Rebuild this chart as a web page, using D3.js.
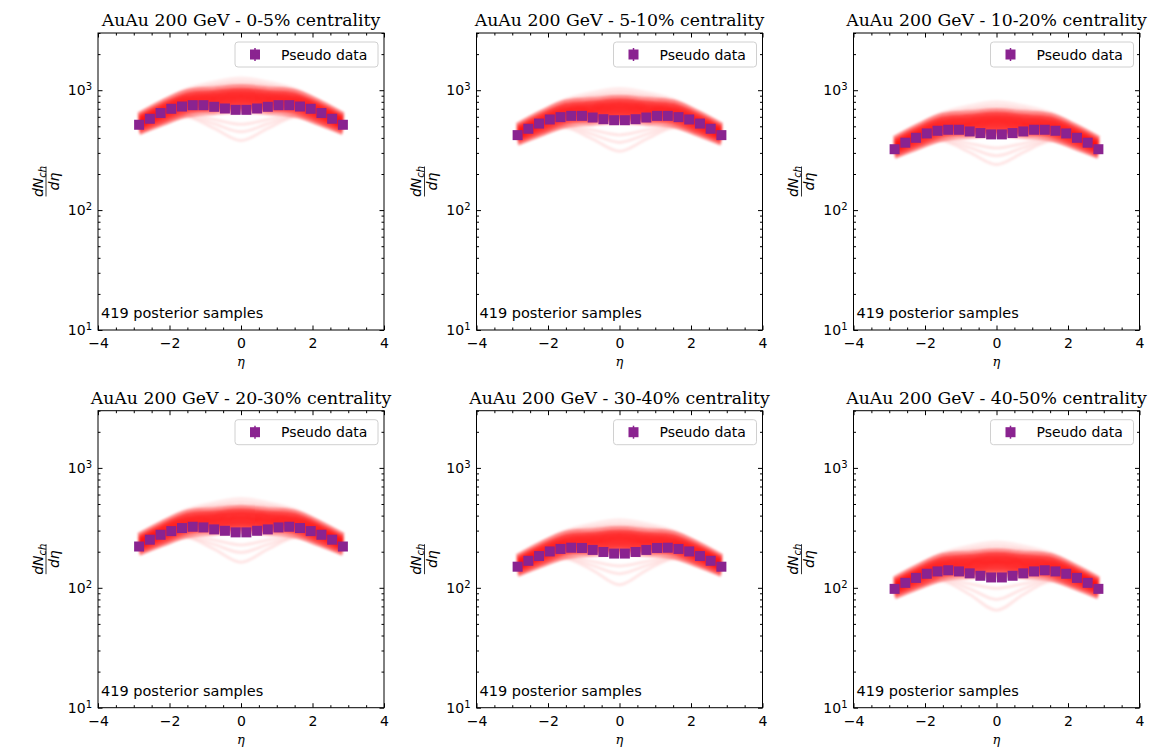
<!DOCTYPE html>
<html>
<head>
<meta charset="utf-8">
<script src="https://cdn.jsdelivr.net/npm/d3@7"></script>
<style>
body { margin: 0; background: #fff; }
svg text { font-family: "DejaVu Sans", sans-serif; }
</style>
</head>
<body>
<div id="chart"></div>
<script>
var svgWidth = 1162;
var svgHeight = 749;

// centrality classes, one panel each
var centralities = ["0-5%", "5-10%", "10-20%", "20-30%", "30-40%", "40-50%"];

// pseudorapidity bins of the pseudo data
var etaBins = [-2.85, -2.55, -2.25, -1.95, -1.65, -1.35, -1.05, -0.75, -0.45, -0.15,
               0.15, 0.45, 0.75, 1.05, 1.35, 1.65, 1.95, 2.25, 2.55, 2.85];

// pseudo data dNch/deta
var data_0_5   = [515, 578, 645, 700, 731, 750, 750, 727, 704, 686, 686, 704, 727, 750, 750, 731, 700, 645, 578, 515];
var data_5_10  = [422, 477, 527, 570, 596, 611, 611, 592, 573, 562, 562, 573, 592, 611, 611, 596, 570, 527, 477, 422];
var data_10_20 = [322, 365, 401, 436, 459, 468, 468, 453, 439, 428, 428, 439, 453, 468, 468, 459, 436, 401, 365, 322];
var data_20_30 = [221, 252, 277, 297, 315, 323, 319, 307, 299, 290, 290, 299, 307, 319, 323, 315, 297, 277, 252, 221];
var data_30_40 = [150, 168, 184, 201, 211, 216, 215, 207, 199, 193, 193, 199, 207, 215, 216, 211, 201, 184, 168, 150];
var data_40_50 = [98, 110, 121, 131, 137, 140, 137, 132, 126, 122, 122, 126, 132, 137, 140, 137, 131, 121, 110, 98];

// eta points where the posterior sample curves were read
var curveEta = [-2.85, -2.2, -1.5, -0.75, 0, 0.75, 1.5, 2.2, 2.85];

// representative posterior curves (dense band, bottom to top)
var band_0_5 = [
  [455, 540, 640, 668, 690, 668, 640, 540, 455],
  [477, 573, 684, 714, 740, 714, 684, 573, 477],
  [501, 608, 730, 764, 793, 764, 730, 608, 501],
  [525, 645, 780, 817, 850, 817, 780, 645, 525],
  [551, 684, 833, 874, 911, 874, 833, 684, 551],
  [578, 726, 890, 935, 977, 935, 890, 726, 578],
  [607, 770, 951, 1000, 1047, 1000, 951, 770, 607]
];
var band_5_10 = [
  [371, 440, 522, 544, 562, 544, 522, 440, 371],
  [389, 467, 557, 582, 603, 582, 557, 467, 389],
  [408, 496, 595, 623, 646, 623, 595, 496, 408],
  [428, 526, 636, 666, 693, 666, 636, 526, 428],
  [449, 557, 679, 712, 742, 712, 679, 557, 449],
  [471, 592, 725, 762, 796, 762, 725, 592, 471],
  [495, 628, 775, 815, 853, 815, 775, 628, 495]
];
var band_10_20 = [
  [288, 341, 404, 422, 436, 422, 404, 341, 288],
  [301, 362, 432, 451, 468, 451, 432, 362, 301],
  [317, 384, 461, 483, 501, 483, 461, 384, 317],
  [332, 408, 493, 516, 537, 516, 493, 408, 332],
  [348, 432, 526, 552, 576, 552, 526, 432, 348],
  [365, 459, 562, 591, 617, 591, 562, 459, 365],
  [384, 487, 601, 632, 662, 632, 601, 487, 384]
];
var band_20_30 = [
  [199, 236, 280, 293, 302, 293, 280, 236, 199],
  [209, 251, 300, 313, 324, 313, 300, 251, 209],
  [219, 266, 320, 335, 347, 335, 320, 266, 219],
  [230, 282, 342, 358, 372, 358, 342, 282, 230],
  [241, 300, 365, 383, 399, 383, 365, 300, 241],
  [253, 318, 390, 410, 428, 410, 390, 318, 253],
  [266, 337, 416, 438, 459, 438, 416, 337, 266]
];
var band_30_40 = [
  [133, 158, 187, 195, 201, 195, 187, 158, 133],
  [139, 167, 200, 208, 216, 208, 200, 167, 139],
  [146, 178, 213, 223, 232, 223, 213, 178, 146],
  [153, 188, 228, 239, 248, 239, 228, 188, 153],
  [161, 200, 243, 255, 266, 255, 243, 200, 161],
  [169, 212, 260, 273, 285, 273, 260, 212, 169],
  [177, 225, 278, 292, 306, 292, 278, 225, 177]
];
var band_40_50 = [
  [86, 103, 122, 127, 131, 127, 122, 103, 86],
  [91, 109, 130, 136, 141, 136, 130, 109, 91],
  [95, 116, 139, 145, 151, 145, 139, 116, 95],
  [100, 123, 148, 155, 162, 155, 148, 123, 100],
  [105, 130, 158, 166, 173, 166, 158, 130, 105],
  [110, 138, 169, 178, 186, 178, 169, 138, 110],
  [115, 146, 181, 190, 199, 190, 181, 146, 115]
];

// sparse outlier curves (two above the band, three with a central dip)
var faint_0_5 = [
  [620, 790, 980, 1070, 1130, 1070, 980, 790, 620],
  [630, 800, 1000, 1140, 1230, 1140, 1000, 800, 630],
  [450, 545, 625, 570, 520, 570, 625, 545, 450],
  [440, 530, 610, 525, 450, 525, 610, 530, 440],
  [430, 520, 595, 480, 380, 480, 595, 520, 430]
];
var faint_5_10 = [
  [505, 644, 799, 872, 921, 872, 799, 644, 505],
  [513, 652, 815, 929, 1002, 929, 815, 652, 513],
  [367, 444, 509, 465, 424, 465, 509, 444, 367],
  [359, 432, 497, 428, 367, 428, 497, 432, 359],
  [350, 424, 485, 391, 310, 391, 485, 424, 350]
];
var faint_10_20 = [
  [392, 499, 619, 676, 714, 676, 619, 499, 392],
  [398, 506, 632, 720, 777, 720, 632, 506, 398],
  [284, 344, 395, 360, 329, 360, 395, 344, 284],
  [278, 335, 385, 332, 284, 332, 385, 335, 278],
  [272, 329, 376, 303, 240, 303, 376, 329, 272]
];
var faint_20_30 = [
  [272, 346, 429, 469, 495, 469, 429, 346, 272],
  [276, 350, 438, 499, 539, 499, 438, 350, 276],
  [197, 239, 274, 250, 228, 250, 274, 239, 197],
  [193, 232, 267, 230, 197, 230, 267, 232, 193],
  [188, 228, 261, 210, 163, 210, 261, 228, 188]
];
var faint_30_40 = [
  [181, 231, 286, 312, 330, 312, 286, 231, 181],
  [184, 234, 292, 333, 359, 333, 292, 234, 184],
  [131, 159, 182, 166, 152, 166, 182, 159, 131],
  [128, 155, 178, 153, 131, 153, 178, 155, 128],
  [126, 152, 174, 140, 106, 140, 174, 152, 126]
];
var faint_40_50 = [
  [118, 150, 186, 203, 215, 203, 186, 150, 118],
  [120, 152, 190, 217, 234, 217, 190, 152, 120],
  [86, 104, 119, 108, 99, 108, 119, 104, 86],
  [84, 101, 116, 98, 80, 98, 116, 101, 84],
  [82, 99, 113, 88, 65, 88, 113, 99, 82]
];

var xTicks = [-4, -2, 0, 2, 4];
var yTicks = [10, 100, 1000];
var sampleCount = 419;

var pseudoData = [data_0_5, data_5_10, data_10_20, data_20_30, data_30_40, data_40_50];
var bands = [band_0_5, band_5_10, band_10_20, band_20_30, band_30_40, band_40_50];
var faints = [faint_0_5, faint_5_10, faint_10_20, faint_20_30, faint_30_40, faint_40_50];

// panel geometry
var colLeft = [98, 476.5, 853.5];
var rowTop = [33, 410.7];
var panelW = 286;
var panelH = 297;
var purple = "#8a2390";

var svg = d3.select("#chart").append("svg")
    .attr("width", svgWidth)
    .attr("height", svgHeight);

// soft edge for the sample curves
svg.append("defs").append("filter")
    .attr("id", "soft")
    .attr("x", "-5%").attr("y", "-30%").attr("width", "110%").attr("height", "160%")
    .append("feGaussianBlur")
    .attr("stdDeviation", 1.3);

var xScale = d3.scaleLinear().domain([-4, 4]).range([0, panelW]);
var yScale = d3.scaleLog().domain([10, 3000]).range([panelH, 0]);

// minor ticks
var xMinor = d3.range(-4, 4.01, 0.5).filter(v => xTicks.indexOf(v) < 0);
var yMinor = [];
[10, 100, 1000].forEach(function(dec) {
    for (var k = 2; k <= 9; k++) {
        if (dec * k <= 3000) yMinor.push(dec * k);
    }
});

var line = d3.line()
    .x((d, i) => xScale(curveEta[i]))
    .y(d => yScale(d))
    .curve(d3.curveCatmullRom.alpha(0.5));

var bandOpacity = [0.35, 0.5, 0.55, 0.6, 0.6, 0.55, 0.4];

centralities.forEach(function(cent, p) {
    var g = svg.append("g")
        .attr("transform", `translate(${colLeft[p % 3]}, ${rowTop[Math.floor(p / 3)]})`);

    var clip = "clip" + p;
    g.append("clipPath").attr("id", clip)
        .append("rect").attr("width", panelW).attr("height", panelH);

    var plot = g.append("g").attr("clip-path", `url(#${clip})`);

    // faint outlier curves
    plot.append("g")
        .attr("filter", "url(#soft)")
        .selectAll("path")
        .data(faints[p])
        .enter()
        .append("path")
        .attr("d", line)
        .attr("fill", "none")
        .attr("stroke", "red")
        .attr("stroke-width", (d, i) => i < 2 ? 6 : 3)
        .attr("stroke-opacity", (d, i) => i < 2 ? 0.08 : 0.1);

    // dense posterior band
    plot.append("g")
        .attr("filter", "url(#soft)")
        .selectAll("path")
        .data(bands[p])
        .enter()
        .append("path")
        .attr("d", line)
        .attr("fill", "none")
        .attr("stroke", "red")
        .attr("stroke-width", 7.5)
        .attr("stroke-linecap", "butt")
        .attr("stroke-opacity", (d, i) => bandOpacity[i]);

    // pseudo data squares
    plot.append("g").selectAll("rect")
        .data(pseudoData[p])
        .enter()
        .append("rect")
        .attr("x", (d, i) => xScale(etaBins[i]) - 5)
        .attr("y", d => yScale(d) - 5)
        .attr("width", 10)
        .attr("height", 10)
        .attr("fill", purple);

    // axes, ticks pointing inward
    var bottom = g.append("g").attr("transform", `translate(0, ${panelH})`);
    bottom.call(d3.axisBottom(xScale).tickValues(xTicks).tickSizeInner(-4.5).tickSizeOuter(0).tickPadding(8)
        .tickFormat(d => d < 0 ? "\u2212" + Math.abs(d) : d));
    bottom.selectAll(".tick text").style("font-size", "14px").attr("fill", "#000");
    bottom.append("g").call(d3.axisBottom(xScale).tickValues(xMinor).tickSize(-2.5).tickFormat(""));

    var top = g.append("g");
    top.call(d3.axisTop(xScale).tickValues(xTicks).tickSize(-4.5).tickFormat(""));
    top.append("g").call(d3.axisTop(xScale).tickValues(xMinor).tickSize(-2.5).tickFormat(""));

    var left = g.append("g");
    left.call(d3.axisLeft(yScale).tickValues(yTicks).tickSizeInner(-4.5).tickSizeOuter(0).tickPadding(6));
    // power-of-ten labels, done before the minor ticks are added
    left.selectAll(".tick text").each(function(d) {
        var t = d3.select(this);
        t.text(null);
        t.attr("fill", "#000").style("font-size", "14px");
        t.append("tspan").text("10");
        t.append("tspan").attr("dy", "-0.5em").attr("font-size", "10px").text(Math.round(Math.log10(d)));
    });
    left.append("g").call(d3.axisLeft(yScale).tickValues(yMinor).tickSize(-2.5).tickFormat(""));

    var right = g.append("g").attr("transform", `translate(${panelW}, 0)`);
    right.call(d3.axisRight(yScale).tickValues(yTicks).tickSize(-4.5).tickFormat(""));
    right.append("g").call(d3.axisRight(yScale).tickValues(yMinor).tickSize(-2.5).tickFormat(""));

    g.selectAll(".domain").remove();
    g.selectAll(".tick line").attr("stroke", "#000");

    // frame
    g.append("rect")
        .attr("width", panelW)
        .attr("height", panelH)
        .attr("fill", "none")
        .attr("stroke", "#000")
        .attr("stroke-width", 1);

    // title
    g.append("text")
        .attr("x", panelW / 2)
        .attr("y", -7)
        .attr("text-anchor", "middle")
        .style("font-family", "'DejaVu Serif', serif")
        .style("font-size", "17.3px")
        .text(`AuAu 200 GeV - ${cent} centrality`);

    // x label
    g.append("text")
        .attr("x", panelW / 2)
        .attr("y", panelH + 36)
        .attr("text-anchor", "middle")
        .style("font-family", "'DejaVu Serif', serif")
        .style("font-style", "italic")
        .style("font-size", "13px")
        .text("\u03b7");

    // y label as a fraction
    var yl = g.append("g")
        .attr("transform", `translate(-52, ${panelH / 2}) rotate(-90)`)
        .style("font-family", "'DejaVu Serif', serif")
        .style("font-style", "italic");
    var num = yl.append("text").attr("x", 0).attr("y", -3.5).attr("text-anchor", "middle").style("font-size", "14px");
    num.append("tspan").text("dN");
    num.append("tspan").attr("dy", 3).style("font-size", "10px").text("ch");
    yl.append("line").attr("x1", -15).attr("x2", 15).attr("y1", 0).attr("y2", 0)
        .attr("stroke", "#000").attr("stroke-width", 0.8);
    yl.append("text").attr("x", 0).attr("y", 12.5).attr("text-anchor", "middle")
        .style("font-size", "14px").text("d\u03b7");

    // sample count annotation
    g.append("text")
        .attr("x", 3)
        .attr("y", panelH - 12)
        .style("font-size", "14.5px")
        .text(`${sampleCount} posterior samples`);

    // legend
    var leg = g.append("g").attr("transform", `translate(${panelW - 149}, 9)`);
    leg.append("rect")
        .attr("width", 143)
        .attr("height", 25)
        .attr("rx", 3)
        .attr("fill", "#fff")
        .attr("fill-opacity", 0.8)
        .attr("stroke", "#d0d0d0");
    leg.append("line")
        .attr("x1", 20).attr("x2", 20).attr("y1", 6).attr("y2", 19)
        .attr("stroke", purple).attr("stroke-width", 1.5);
    leg.append("rect")
        .attr("x", 15).attr("y", 7.5).attr("width", 10).attr("height", 10)
        .attr("fill", purple);
    leg.append("text")
        .attr("x", 46)
        .attr("y", 17.5)
        .style("font-size", "14px")
        .text("Pseudo data");
});
</script>
</body>
</html>
